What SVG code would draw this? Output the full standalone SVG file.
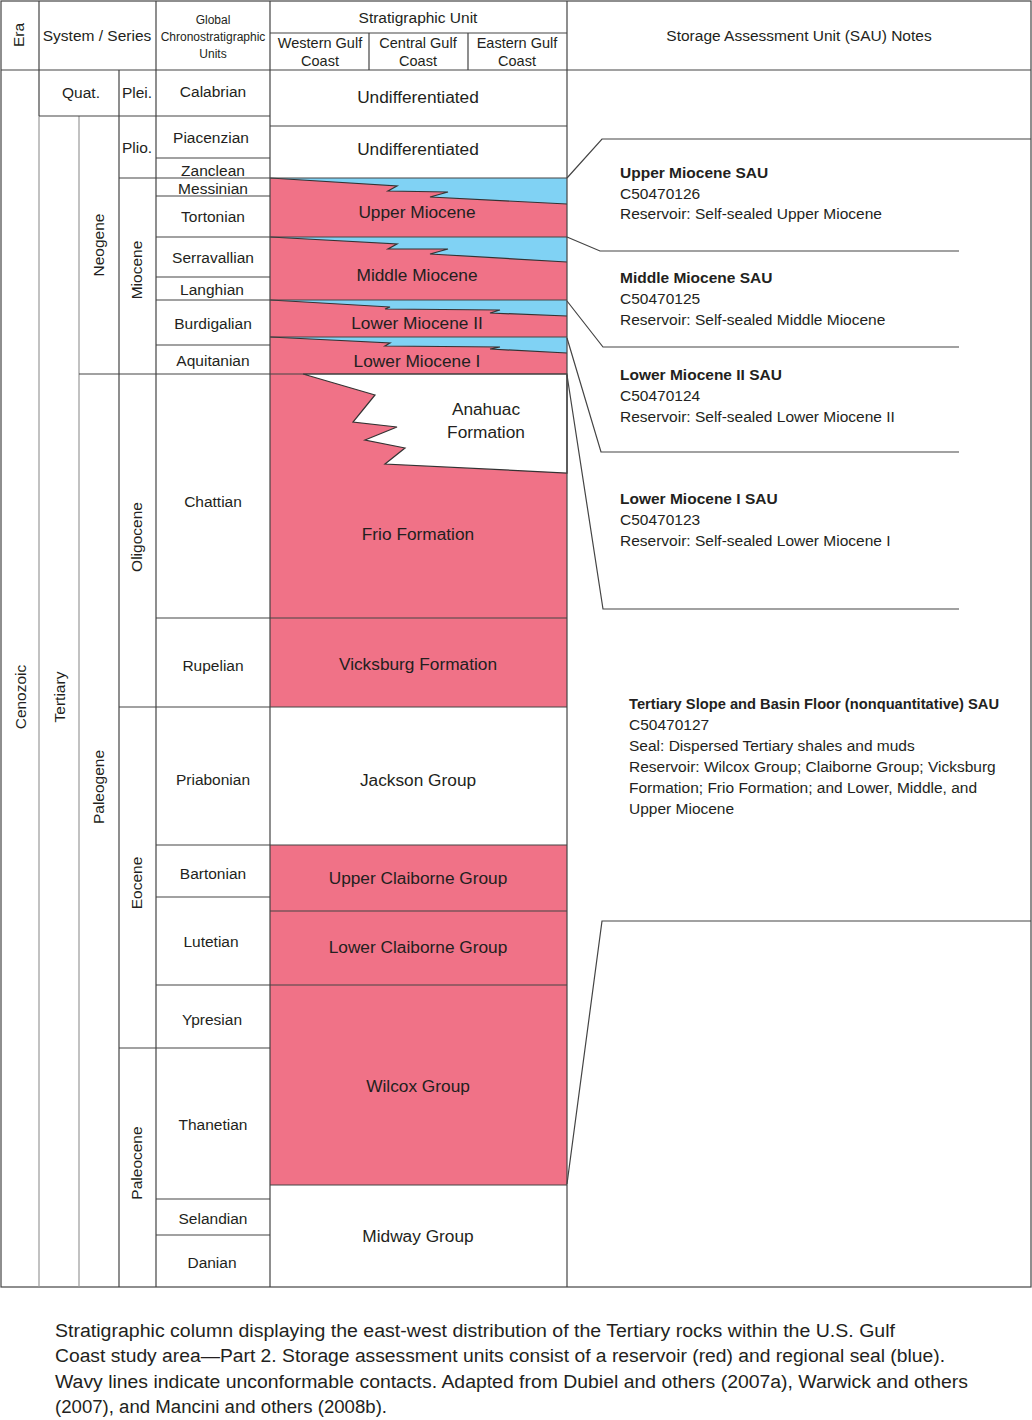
<svg xmlns="http://www.w3.org/2000/svg" width="1032" height="1420" viewBox="0 0 1032 1420">
<style>
text{font-family:"Liberation Sans",Arial,sans-serif;fill:#231f20}
.hd{font-size:15.5px;text-anchor:middle}
.hs{font-size:12px;text-anchor:middle}
.hc{font-size:14.5px;text-anchor:middle}
.st{font-size:15.5px;text-anchor:middle}
.un{font-size:17.3px;text-anchor:middle}
.no{font-size:15.5px}
.b{font-weight:bold}
.cap{font-size:18px}
.ln{stroke:#444;stroke-width:1.2;fill:none}
.lg{stroke:#999;stroke-width:1.2;fill:none}
.red{fill:#f07287}
.blue{fill:#80d2f4}
.edge{stroke:#333;stroke-width:1.2;fill:none}
</style>

<rect x="0" y="0" width="1032" height="1420" fill="#fff"/>

<g id="units">
  <g id="upper-miocene">
    <rect class="red" x="270" y="178" width="297" height="59"/>
    <polygon class="blue" points="270,178 567,178 567,204 430,197 448,192 388,191 397,186"/>
    <polyline class="edge" points="270,178 397,186 388,191 448,192 430,197 567,204"/>
  </g>
  <g id="middle-miocene">
    <rect class="red" x="270" y="237" width="297" height="63"/>
    <polygon class="blue" points="270,237 567,237 567,262 430,254 448,249 388,249 397,244"/>
    <polyline class="edge" points="270,237 397,244 388,249 448,249 430,254 567,262"/>
  </g>
  <g id="lower-miocene-ii">
    <rect class="red" x="270" y="300" width="297" height="37"/>
    <polygon class="blue" points="270,300 567,300 567,316 490,313 500,310 385,309 390,307"/>
    <polyline class="edge" points="270,300 390,307 385,309 500,310 490,313 567,316"/>
  </g>
  <g id="lower-miocene-i">
    <rect class="red" x="270" y="337" width="297" height="37"/>
    <polygon class="blue" points="270,337 567,337 567,353 490,349 500,347 385,346 390,343"/>
    <polyline class="edge" points="270,337 390,343 385,346 500,347 490,349 567,353"/>
  </g>
  <g id="frio">
    <rect class="red" x="270" y="374" width="297" height="244"/>
    <polygon fill="#fff" stroke="#333" stroke-width="1.2" points="303,374 567,374 567,473 385,464 405,448 365,440 397,427 353,422 375,395"/>
  </g>
  <g id="vicksburg"><rect class="red" x="270" y="618" width="297" height="89"/></g>
  <g id="upper-claiborne"><rect class="red" x="270" y="845" width="297" height="66"/></g>
  <g id="lower-claiborne"><rect class="red" x="270" y="911" width="297" height="74"/></g>
  <g id="wilcox"><rect class="red" x="270" y="985" width="297" height="200"/></g>
</g>

<g id="grid">
  <rect class="ln" x="1" y="1" width="1030" height="1286"/>
  <line class="ln" x1="1" y1="70" x2="1031" y2="70"/>
  <line class="ln" x1="39" y1="1" x2="39" y2="116"/>
  <line class="lg" x1="39" y1="116" x2="39" y2="1287"/>
  <line class="lg" x1="79" y1="116" x2="79" y2="1287"/>
  <line class="ln" x1="119" y1="70" x2="119" y2="1287"/>
  <line class="ln" x1="156" y1="1" x2="156" y2="1287"/>
  <line class="ln" x1="270" y1="1" x2="270" y2="1287"/>
  <line class="ln" x1="567" y1="1" x2="567" y2="1287"/>
  <line class="ln" x1="369" y1="33" x2="369" y2="70"/>
  <line class="ln" x1="468" y1="33" x2="468" y2="70"/>
  <line class="ln" x1="270" y1="33" x2="567" y2="33"/>
  <line class="ln" x1="39" y1="116" x2="270" y2="116"/>
  <line class="ln" x1="270" y1="126" x2="567" y2="126"/>
  <line class="ln" x1="156" y1="158" x2="270" y2="158"/>
  <line class="ln" x1="119" y1="178" x2="567" y2="178"/>
  <line class="ln" x1="156" y1="196" x2="270" y2="196"/>
  <line class="ln" x1="156" y1="237" x2="567" y2="237"/>
  <line class="ln" x1="156" y1="277" x2="270" y2="277"/>
  <line class="ln" x1="156" y1="300" x2="567" y2="300"/>
  <line class="ln" x1="270" y1="337" x2="567" y2="337"/>
  <line class="ln" x1="156" y1="345" x2="270" y2="345"/>
  <line class="ln" x1="79" y1="374" x2="567" y2="374"/>
  <line class="ln" x1="156" y1="618" x2="567" y2="618"/>
  <line class="ln" x1="119" y1="707" x2="567" y2="707"/>
  <line class="ln" x1="156" y1="845" x2="567" y2="845"/>
  <line class="ln" x1="156" y1="897" x2="270" y2="897"/>
  <line class="ln" x1="270" y1="911" x2="567" y2="911"/>
  <line class="ln" x1="156" y1="985" x2="567" y2="985"/>
  <line class="ln" x1="119" y1="1048" x2="270" y2="1048"/>
  <line class="ln" x1="270" y1="1185" x2="567" y2="1185"/>
  <line class="ln" x1="156" y1="1199" x2="270" y2="1199"/>
  <line class="ln" x1="156" y1="1235" x2="270" y2="1235"/>
</g>

<g id="connectors">
  <polyline class="ln" points="567,178 602,139 1031,139"/>
  <polyline class="ln" points="567,237 600,251 959,251"/>
  <polyline class="ln" points="567,301 603,347 959,347"/>
  <polyline class="ln" points="567,338 601,452 959,452"/>
  <polyline class="ln" points="567,375 603,609 959,609"/>
  <polyline class="ln" points="567,1184 602,921 1031,921"/>
</g>

<g id="header">
  <text class="hd" transform="rotate(-90 23.5 35)" x="23.5" y="35">Era</text>
  <text class="hd" x="97" y="41">System / Series</text>
  <text class="hs" x="213" y="24">Global</text>
  <text class="hs" x="213" y="41">Chronostratigraphic</text>
  <text class="hs" x="213" y="58">Units</text>
  <text class="hd" x="418" y="23">Stratigraphic Unit</text>
  <text class="hc" x="320" y="48">Western Gulf</text>
  <text class="hc" x="320" y="66">Coast</text>
  <text class="hc" x="418" y="48">Central Gulf</text>
  <text class="hc" x="418" y="66">Coast</text>
  <text class="hc" x="517" y="48">Eastern Gulf</text>
  <text class="hc" x="517" y="66">Coast</text>
  <text class="hd" x="799" y="41">Storage Assessment Unit (SAU) Notes</text>
</g>

<g id="time-labels">
  <text class="st" transform="rotate(-90 25.5 697)" x="25.5" y="697">Cenozoic</text>
  <text class="st" transform="rotate(-90 64.5 697)" x="64.5" y="697">Tertiary</text>
  <text class="st" transform="rotate(-90 104 245)" x="104" y="245">Neogene</text>
  <text class="st" transform="rotate(-90 104 787)" x="104" y="787">Paleogene</text>
  <text class="st" transform="rotate(-90 141.5 270)" x="141.5" y="270">Miocene</text>
  <text class="st" transform="rotate(-90 141.5 537)" x="141.5" y="537">Oligocene</text>
  <text class="st" transform="rotate(-90 141.5 883)" x="141.5" y="883">Eocene</text>
  <text class="st" transform="rotate(-90 141.5 1163)" x="141.5" y="1163">Paleocene</text>
  <text class="st" x="81" y="98">Quat.</text>
  <text class="st" x="137" y="98">Plei.</text>
  <text class="st" x="137" y="153">Plio.</text>
  <text class="st" x="213" y="97">Calabrian</text>
  <text class="st" x="211" y="143">Piacenzian</text>
  <text class="st" x="213" y="176">Zanclean</text>
  <text class="st" x="213" y="194">Messinian</text>
  <text class="st" x="213" y="222">Tortonian</text>
  <text class="st" x="213" y="263">Serravallian</text>
  <text class="st" x="212" y="295">Langhian</text>
  <text class="st" x="213" y="329">Burdigalian</text>
  <text class="st" x="213" y="366">Aquitanian</text>
  <text class="st" x="213" y="507">Chattian</text>
  <text class="st" x="213" y="671">Rupelian</text>
  <text class="st" x="213" y="785">Priabonian</text>
  <text class="st" x="213" y="879">Bartonian</text>
  <text class="st" x="211" y="947">Lutetian</text>
  <text class="st" x="212" y="1025">Ypresian</text>
  <text class="st" x="213" y="1130">Thanetian</text>
  <text class="st" x="213" y="1224">Selandian</text>
  <text class="st" x="212" y="1268">Danian</text>
</g>

<g id="unit-labels">
  <text class="un" x="418" y="103">Undifferentiated</text>
  <text class="un" x="418" y="155">Undifferentiated</text>
  <text class="un" x="417" y="218">Upper Miocene</text>
  <text class="un" x="417" y="281">Middle Miocene</text>
  <text class="un" x="417" y="329">Lower Miocene II</text>
  <text class="un" x="417" y="367">Lower Miocene I</text>
  <text class="un" x="486" y="415">Anahuac</text>
  <text class="un" x="486" y="438">Formation</text>
  <text class="un" x="418" y="540">Frio Formation</text>
  <text class="un" x="418" y="670">Vicksburg Formation</text>
  <text class="un" x="418" y="786">Jackson Group</text>
  <text class="un" x="418" y="884">Upper Claiborne Group</text>
  <text class="un" x="418" y="953">Lower Claiborne Group</text>
  <text class="un" x="418" y="1092">Wilcox Group</text>
  <text class="un" x="418" y="1242">Midway Group</text>
</g>

<g id="sau-notes">
  <g id="sau-upper-miocene">
    <text class="no b" x="620" y="178">Upper Miocene SAU</text>
    <text class="no" x="620" y="199">C50470126</text>
    <text class="no" x="620" y="219">Reservoir: Self-sealed Upper Miocene</text>
  </g>
  <g id="sau-middle-miocene">
    <text class="no b" x="620" y="283">Middle Miocene SAU</text>
    <text class="no" x="620" y="304">C50470125</text>
    <text class="no" x="620" y="325">Reservoir: Self-sealed Middle Miocene</text>
  </g>
  <g id="sau-lower-miocene-ii">
    <text class="no b" x="620" y="380">Lower Miocene II SAU</text>
    <text class="no" x="620" y="401">C50470124</text>
    <text class="no" x="620" y="422">Reservoir: Self-sealed Lower Miocene II</text>
  </g>
  <g id="sau-lower-miocene-i">
    <text class="no b" x="620" y="504">Lower Miocene I SAU</text>
    <text class="no" x="620" y="525">C50470123</text>
    <text class="no" x="620" y="546">Reservoir: Self-sealed Lower Miocene I</text>
  </g>
  <g id="sau-tertiary">
    <text class="no b" x="629" y="709" textLength="370" lengthAdjust="spacingAndGlyphs">Tertiary Slope and Basin Floor (nonquantitative) SAU</text>
    <text class="no" x="629" y="730">C50470127</text>
    <text class="no" x="629" y="751">Seal: Dispersed Tertiary shales and muds</text>
    <text class="no" x="629" y="772">Reservoir: Wilcox Group; Claiborne Group; Vicksburg</text>
    <text class="no" x="629" y="793">Formation; Frio Formation; and Lower, Middle, and</text>
    <text class="no" x="629" y="814">Upper Miocene</text>
  </g>
</g>

<g id="caption">
  <text class="cap" x="55" y="1337" textLength="840" lengthAdjust="spacingAndGlyphs">Stratigraphic column displaying the east-west distribution of the Tertiary rocks within the U.S. Gulf</text>
  <text class="cap" x="55" y="1362" textLength="890" lengthAdjust="spacingAndGlyphs">Coast study area—Part 2. Storage assessment units consist of a reservoir (red) and regional seal (blue).</text>
  <text class="cap" x="55" y="1388" textLength="913" lengthAdjust="spacingAndGlyphs">Wavy lines indicate unconformable contacts. Adapted from Dubiel and others (2007a), Warwick and others</text>
  <text class="cap" x="55" y="1413" textLength="332" lengthAdjust="spacingAndGlyphs">(2007), and Mancini and others (2008b).</text>
</g>
</svg>
